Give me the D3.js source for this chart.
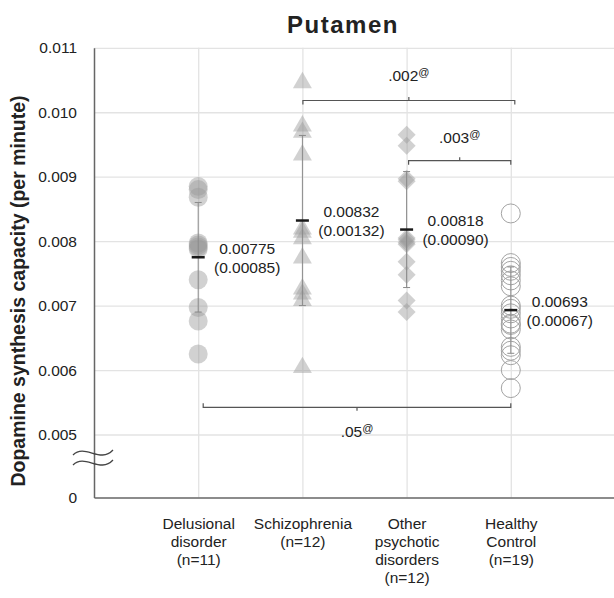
<!DOCTYPE html>
<html>
<head>
<meta charset="utf-8">
<script src="https://cdn.jsdelivr.net/npm/d3@7"></script>
<style>
  body { margin: 0; background: #fff; }
  text { font-family: "Liberation Sans", Arial, sans-serif; fill: #222; }
</style>
</head>
<body>
<svg id="chart" width="614" height="598"></svg>
<script>
const categories = ['Delusional disorder', 'Schizophrenia', 'Other psychotic disorders', 'Healthy Control'];
const categoryLines = [
  ['Delusional', 'disorder', '(n=11)'],
  ['Schizophrenia', '(n=12)'],
  ['Other', 'psychotic', 'disorders', '(n=12)'],
  ['Healthy', 'Control', '(n=19)']
];

const delusional = [0.00885, 0.00880, 0.00868, 0.00797, 0.00794, 0.00791, 0.00788, 0.00740, 0.00697, 0.00676, 0.00625];
const schizophrenia = [0.01050, 0.00983, 0.00973, 0.00938, 0.00823, 0.00818, 0.00808, 0.00778, 0.00730, 0.00722, 0.00712, 0.00608];
const otherPsychotic = [0.00965, 0.00948, 0.00897, 0.00893, 0.00805, 0.00802, 0.00798, 0.00795, 0.00768, 0.00748, 0.00708, 0.00690];
const healthyControl = [0.00843, 0.00766, 0.00760, 0.00754, 0.00747, 0.00739, 0.00730, 0.00700, 0.00695, 0.00688,
  0.00680, 0.00672, 0.00670, 0.00663, 0.00636, 0.00630, 0.00623, 0.00600, 0.00572];

const means = [0.00775, 0.00832, 0.00818, 0.00693];
const sds = [0.00085, 0.00132, 0.00090, 0.00067];

const yTicks = [0, 0.005, 0.006, 0.007, 0.008, 0.009, 0.010, 0.011];

const comparisons = [
  { from: 1, to: 3, p: '.002' },
  { from: 2, to: 3, p: '.003' },
  { from: 0, to: 3, p: '.05' }
];

const groupValues = [delusional, schizophrenia, otherPsychotic, healthyControl];

const width = 614;
const margin = { left: 94, right: 0, top: 47.8, bottom: 100.5 };
const plotBottom = 598 - margin.bottom;

const svg = d3.select('#chart');

// broken axis: 0 sits just below the 0.005 gridline
const y = d3.scaleLinear()
  .domain([0, 0.005, 0.011])
  .range([plotBottom, 434.5, margin.top]);

const x = d3.scalePoint()
  .domain(categories)
  .range([margin.left, width + 1])
  .padding(1);

// horizontal gridlines
svg.append('g')
  .attr('transform', `translate(${margin.left},0)`)
  .call(d3.axisLeft(y).tickValues(yTicks.filter(v => v > 0)).tickSize(-(width - margin.left)).tickFormat(''))
  .call(g => g.select('.domain').remove())
  .call(g => g.selectAll('.tick line').attr('stroke', '#e3e3e3').attr('stroke-width', 1.3));

// vertical gridlines
svg.append('g')
  .attr('transform', `translate(0,${plotBottom})`)
  .call(d3.axisBottom(x).tickSize(-(plotBottom - margin.top)).tickFormat(''))
  .call(g => g.select('.domain').remove())
  .call(g => g.selectAll('.tick line').attr('stroke', '#e3e3e3').attr('stroke-width', 1.3));

// y axis
svg.append('g')
  .attr('transform', `translate(${margin.left},0)`)
  .call(d3.axisLeft(y).tickValues(yTicks).tickSize(0).tickPadding(17)
    .tickFormat(d => d === 0 ? '0' : d3.format('.3f')(d)))
  .call(g => g.select('.domain').attr('stroke', '#666').attr('stroke-width', 1.5))
  .call(g => g.selectAll('.tick text')
    .attr('font-size', 15.5)
    .attr('font-family', '"Liberation Sans", Arial, sans-serif')
    .attr('fill', '#222'));

// x axis
svg.append('g')
  .attr('transform', `translate(0,${plotBottom})`)
  .call(d3.axisBottom(x).tickSize(0).tickSizeOuter(0).tickFormat(''))
  .call(g => g.select('.domain').attr('stroke', '#666').attr('stroke-width', 1.5))
  .call(g => g.selectAll('.tick').each(function (d, i) {
    const t = d3.select(this).append('text')
      .attr('text-anchor', 'middle')
      .attr('font-size', 15.5)
      .attr('font-family', '"Liberation Sans", Arial, sans-serif')
      .attr('fill', '#222');
    categoryLines[i].forEach((line, k) => {
      t.append('tspan').attr('x', 0).attr('y', 31.5 + k * 18).text(line);
    });
  }));

// axis break marks
const bx = margin.left;
[452, 462].forEach(by => {
  svg.append('path')
    .attr('d', `M${bx - 21},${by + 3} C${bx - 9},${by - 9} ${bx + 6},${by + 12} ${bx + 19},${by - 2}`)
    .attr('fill', 'none')
    .attr('stroke', '#444')
    .attr('stroke-width', 1.3);
});

// markers
const symbols = [d3.symbolCircle, d3.symbolTriangle, d3.symbolSquare, d3.symbolCircle];
const sizes = [283, 156, 162, 283];
const rotations = [0, 0, 45, 0];

groupValues.forEach((values, i) => {
  const sym = d3.symbol().type(symbols[i]).size(sizes[i]);
  const g = svg.append('g');
  g.selectAll('path')
    .data(values)
    .join('path')
    .attr('d', sym)
    .attr('transform', d => `translate(${x(categories[i])},${y(d) + (i === 1 ? 2.7 : 0)}) rotate(${rotations[i]})`)
    .attr('fill', i === 3 ? 'none' : '#9a9a9a')
    .attr('fill-opacity', i === 3 ? null : 0.45)
    .attr('stroke', i === 3 ? '#a3a3a3' : 'none')
    .attr('stroke-width', 1);
});

// error bars (mean ± SD)
const bars = svg.append('g');
categories.forEach((c, i) => {
  const cx = x(c);
  const lo = y(means[i] - sds[i]);
  const hi = y(means[i] + sds[i]);
  bars.append('line').attr('x1', cx).attr('x2', cx).attr('y1', lo).attr('y2', hi)
    .attr('stroke', '#8a8a8a').attr('stroke-width', 1);
  [lo, hi].forEach(v => bars.append('line')
    .attr('x1', cx - 3.5).attr('x2', cx + 3.5).attr('y1', v).attr('y2', v)
    .attr('stroke', '#8a8a8a').attr('stroke-width', 1));
  bars.append('line')
    .attr('x1', cx - 6.5).attr('x2', cx + 6.5)
    .attr('y1', y(means[i])).attr('y2', y(means[i]))
    .attr('stroke', '#1a1a1a').attr('stroke-width', 2.5);

  const label = svg.append('text')
    .attr('text-anchor', 'middle')
    .attr('font-size', 15.5);
  label.append('tspan').attr('x', cx + 49).attr('y', y(means[i]) - 3.5).text(d3.format('.5f')(means[i]));
  label.append('tspan').attr('x', cx + 49).attr('y', y(means[i]) + 15.5).text(`(${d3.format('.5f')(sds[i])})`);
});

// significance brackets
const bracketLayout = [
  { y: 100.5, dir: 1, dx0: 0.5, dx1: 4, labelY: 81 },
  { y: 160.7, dir: 1, dx0: 2, dx1: 0, labelY: 143 },
  { y: 407.3, dir: -1, dx0: 5, dx1: 0, labelY: 437 }
];

comparisons.forEach((c, i) => {
  const b = bracketLayout[i];
  const x0 = x(categories[c.from]) + b.dx0;
  const x1 = x(categories[c.to]) + b.dx1;
  const xm = (x0 + x1) / 2;
  svg.append('path')
    .attr('d', `M${x0},${b.y + 4 * b.dir} V${b.y} H${x1} V${b.y + 4 * b.dir} M${xm},${b.y} V${b.y - 3.5 * b.dir}`)
    .attr('fill', 'none')
    .attr('stroke', '#555')
    .attr('stroke-width', 1.2);
  const t = svg.append('text')
    .attr('x', xm)
    .attr('y', b.labelY)
    .attr('text-anchor', 'middle')
    .attr('font-size', 15.5);
  t.append('tspan').text(c.p);
  t.append('tspan').attr('font-size', 11).attr('dy', -5.5).text('@');
});

// title
svg.append('text')
  .attr('x', 343)
  .attr('y', 33)
  .attr('text-anchor', 'middle')
  .attr('font-size', 24)
  .attr('font-weight', 'bold')
  .attr('letter-spacing', 1.5)
  .text('Putamen');

// y axis title
svg.append('text')
  .attr('transform', `translate(25,291) rotate(-90)`)
  .attr('text-anchor', 'middle')
  .attr('font-size', 19.5)
  .attr('font-weight', 'bold')
  .text('Dopamine synthesis capacity (per minute)');
</script>
</body>
</html>
